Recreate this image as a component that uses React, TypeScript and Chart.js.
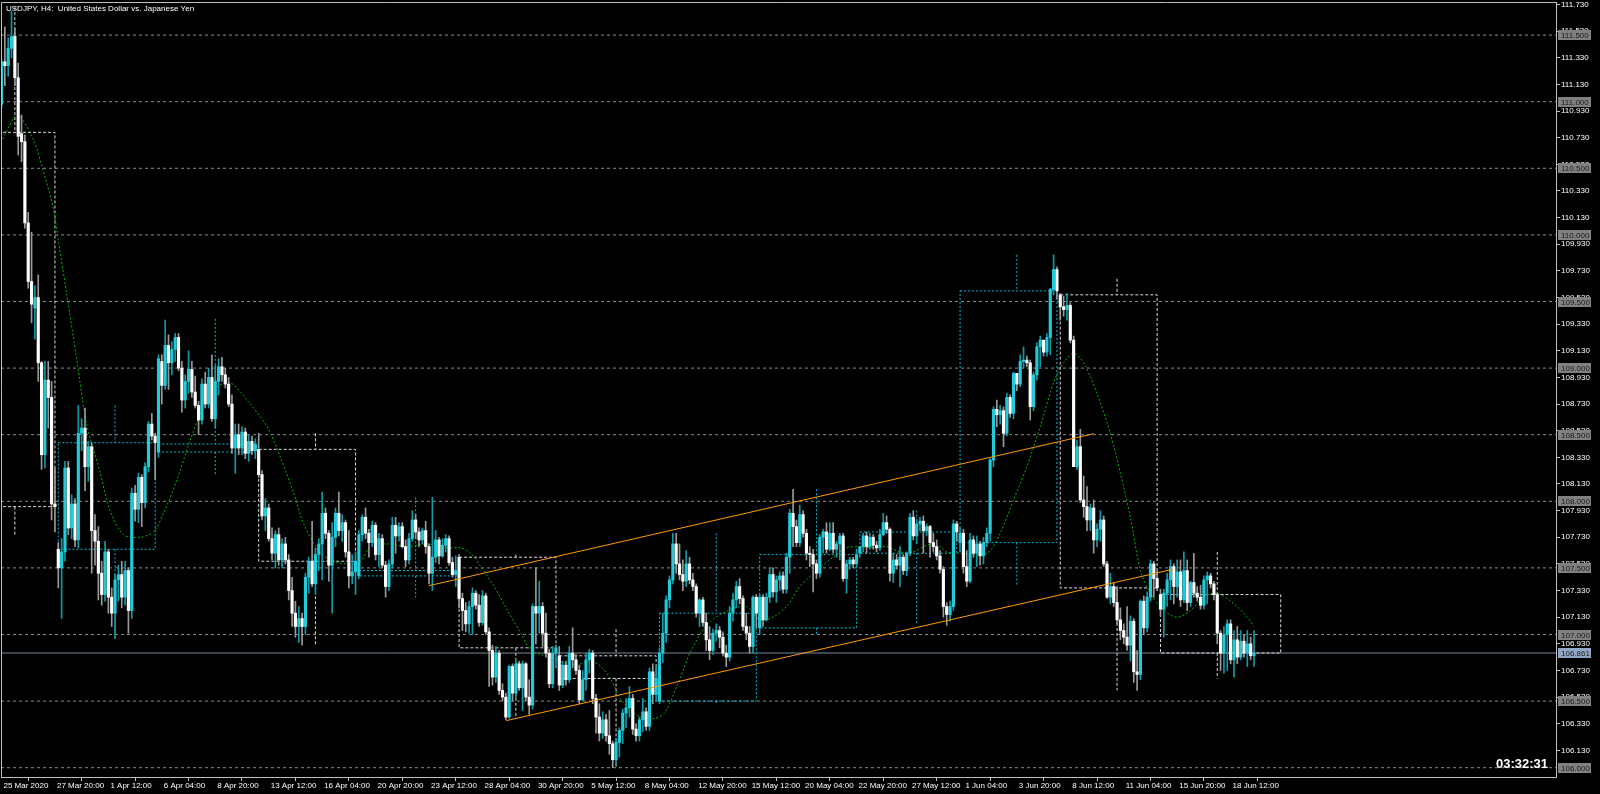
import { useEffect, useRef } from "react";
import { Chart, registerables } from "chart.js";

Chart.register(...registerables);

const FONT = "'Liberation Sans', Arial, sans-serif";
const TITLE = "USDJPY, H4:  United States Dollar vs. Japanese Yen";
const TIMER = "03:32:31";

// H4 candles, one array per trading week: [open, high, low, close]
const weekA = [
  [110.98,111.32,110.95,111.30],[111.30,111.56,111.12,111.27],[111.27,111.48,111.19,111.40],[111.40,111.68,111.33,111.49],
  [111.49,111.55,111.12,111.18],[111.18,111.29,110.60,110.74],[110.76,110.90,110.55,110.70],[110.70,110.75,110.05,110.09],
  [110.09,110.17,109.60,109.65],[109.65,110.02,109.34,109.48],[109.45,109.62,109.22,109.53],[109.53,109.70,108.90,109.04],
  [109.04,109.05,108.24,108.35],[108.35,109.05,108.25,108.91],[108.91,109.05,108.55,108.78],[108.78,108.90,107.86,107.98],
  [107.98,108.25,107.77,107.96],
];
const weekB = [
  [107.64,107.69,107.35,107.50],[107.50,107.72,107.12,107.62],[107.62,108.30,107.55,108.25],[108.25,108.30,107.75,107.80],
  [107.80,108.05,107.72,107.98],[107.98,108.02,107.66,107.71],[107.71,108.72,107.65,108.51],[108.51,108.62,108.38,108.55],
  [108.55,108.70,108.08,108.26],[108.26,108.45,108.15,108.41],[108.41,108.44,107.46,107.78],[107.78,107.90,107.52,107.70],
  [107.70,107.81,107.26,107.46],[107.46,107.55,107.22,107.30],[107.30,107.70,107.25,107.62],[107.62,107.64,107.16,107.28],
  [107.28,107.35,107.06,107.16],[107.16,107.45,106.97,107.41],[107.41,107.52,107.25,107.45],[107.45,107.55,107.20,107.28],
  [107.28,107.55,107.22,107.48],[107.48,107.50,107.01,107.18],[107.18,108.10,107.12,108.06],[108.06,108.12,107.85,107.94],
  [107.94,108.21,107.84,108.18],[108.18,108.20,107.81,107.99],[107.99,108.29,107.95,108.26],[108.26,108.60,108.22,108.58],
  [108.58,108.66,108.46,108.49],[108.49,108.51,108.16,108.44],
];
const weekC = [
  [108.37,109.10,108.33,109.07],[109.05,109.10,108.73,108.87],[108.87,109.36,108.84,109.17],[109.17,109.25,108.84,109.04],
  [109.04,109.20,108.95,109.14],[109.14,109.26,109.05,109.23],[109.23,109.26,108.98,109.00],[109.00,109.05,108.67,108.76],
  [108.76,108.95,108.70,108.90],[108.90,109.13,108.81,108.99],[108.99,109.05,108.78,108.82],[108.82,108.94,108.70,108.72],
  [108.72,108.75,108.50,108.61],[108.61,108.92,108.58,108.88],[108.88,108.97,108.70,108.73],[108.73,109.00,108.70,108.93],
  [108.93,109.10,108.60,108.62],[108.62,109.02,108.55,108.90],[108.90,109.07,108.80,109.01],[109.01,109.08,108.90,108.95],
  [108.95,109.00,108.85,108.88],[108.88,108.93,108.71,108.73],[108.73,108.80,108.36,108.40],[108.40,108.58,108.21,108.50],
  [108.50,108.58,108.35,108.40],[108.40,108.56,108.35,108.52],[108.52,108.55,108.32,108.36],[108.36,108.50,108.30,108.45],
  [108.45,108.49,108.35,108.38],[108.38,108.47,108.32,108.43],
];
const weekD = [
  [108.39,108.51,108.18,108.20],[108.20,108.23,107.86,107.89],[107.89,108.02,107.78,107.95],[107.95,107.98,107.70,107.72],
  [107.72,107.80,107.56,107.61],[107.61,107.78,107.50,107.75],[107.75,107.80,107.52,107.56],[107.56,107.72,107.50,107.68],
  [107.68,107.73,107.53,107.56],[107.56,107.60,107.26,107.33],[107.33,107.43,107.06,107.16],[107.16,107.25,106.98,107.06],
  [107.06,107.21,106.94,107.12],[107.12,107.16,106.92,107.06],[107.06,107.46,107.00,107.43],[107.43,107.58,107.31,107.55],
  [107.55,107.85,107.36,107.38],[107.38,107.65,107.30,107.60],[107.60,107.72,107.48,107.68],[107.68,108.07,107.41,107.91],
  [107.91,107.95,107.72,107.76],[107.76,107.78,107.40,107.52],[107.52,107.84,107.16,107.73],[107.73,107.95,107.66,107.91],
  [107.91,108.07,107.74,107.78],[107.78,107.90,107.70,107.84],[107.84,107.86,107.58,107.62],[107.62,107.78,107.35,107.44],
  [107.44,107.60,107.38,107.47],[107.47,107.62,107.30,107.55],
];
const weekE = [
  [107.44,107.78,107.42,107.75],[107.75,107.90,107.70,107.88],[107.88,107.95,107.72,107.76],[107.76,107.79,107.58,107.69],
  [107.69,107.85,107.66,107.82],[107.82,107.84,107.56,107.60],[107.60,107.76,107.51,107.72],[107.72,107.75,107.50,107.52],
  [107.52,107.55,107.28,107.36],[107.36,107.56,107.33,107.53],[107.53,107.88,107.50,107.82],[107.82,107.88,107.61,107.74],
  [107.74,107.84,107.70,107.81],[107.81,107.84,107.65,107.66],[107.66,107.71,107.51,107.56],[107.56,107.76,107.53,107.72],
  [107.72,107.93,107.70,107.86],[107.86,107.90,107.72,107.77],[107.77,107.80,107.66,107.71],[107.71,107.80,107.68,107.78],
  [107.78,107.85,107.61,107.66],[107.66,107.68,107.38,107.46],[107.46,108.03,107.33,107.58],[107.58,107.78,107.54,107.71],
  [107.71,107.73,107.53,107.59],[107.59,107.72,107.58,107.67],[107.67,107.75,107.62,107.72],[107.72,107.74,107.52,107.54],
  [107.54,107.58,107.43,107.45],[107.45,107.59,107.36,107.48],
];
const weekF = [
  [107.58,107.60,107.20,107.27],[107.27,107.31,107.03,107.18],[107.18,107.24,107.02,107.08],[107.08,107.25,107.01,107.21],
  [107.21,107.35,107.00,107.31],[107.31,107.33,107.19,107.22],[107.22,107.30,107.06,107.09],[107.09,107.33,107.07,107.29],
  [107.29,107.31,107.00,107.02],[107.02,107.05,106.61,106.88],[106.88,106.92,106.62,106.68],[106.68,106.91,106.64,106.86],
  [106.86,106.88,106.55,106.58],[106.58,106.63,106.50,106.53],[106.53,106.56,106.36,106.38],[106.38,106.77,106.37,106.76],
  [106.76,106.78,106.50,106.56],[106.56,106.80,106.52,106.78],[106.78,106.80,106.58,106.60],[106.60,106.80,106.43,106.78],
  [106.78,106.79,106.50,106.53],[106.53,106.66,106.40,106.47],[106.47,107.23,106.44,107.21],[107.21,107.50,106.93,107.16],
  [107.16,107.40,107.01,107.21],[107.21,107.24,106.91,107.01],[107.01,107.16,106.83,106.86],[106.86,106.89,106.60,106.63],
  [106.63,106.91,106.60,106.86],[106.86,106.92,106.75,106.90],
];
const weekG = [
  [106.84,106.91,106.58,106.62],[106.62,106.80,106.60,106.77],[106.77,106.80,106.62,106.66],[106.66,106.91,106.64,106.86],
  [106.86,107.05,106.75,106.81],[106.81,106.85,106.70,106.73],[106.73,106.77,106.48,106.51],[106.51,106.73,106.50,106.66],
  [106.66,106.86,106.58,106.81],[106.81,106.89,106.71,106.86],[106.86,106.88,106.48,106.52],[106.52,106.55,106.26,106.38],
  [106.38,106.48,106.20,106.26],[106.26,106.42,106.22,106.36],[106.36,106.40,106.20,106.24],[106.24,106.43,106.10,106.18],
  [106.18,106.20,106.00,106.06],[106.06,106.22,106.02,106.19],[106.19,106.30,106.08,106.28],[106.28,106.44,106.18,106.41],
  [106.41,106.52,106.30,106.45],[106.45,106.61,106.38,106.52],[106.52,106.55,106.25,106.29],[106.29,106.33,106.20,106.24],
  [106.24,106.38,106.20,106.36],[106.36,106.52,106.27,106.42],[106.42,106.45,106.28,106.31],[106.31,106.75,106.28,106.72],
  [106.72,106.78,106.48,106.55],[106.55,106.76,106.50,106.67],
];
const weekH = [
  [106.50,106.90,106.48,106.86],[106.86,107.16,106.79,107.01],[107.01,107.29,106.94,107.26],[107.26,107.44,107.20,107.41],
  [107.41,107.76,107.38,107.68],[107.68,107.76,107.46,107.53],[107.53,107.68,107.41,107.45],[107.45,107.56,107.33,107.40],
  [107.40,107.63,107.36,107.53],[107.53,107.58,107.38,107.41],[107.41,107.46,107.33,107.36],[107.36,107.38,107.13,107.16],
  [107.16,107.27,107.06,107.26],[107.26,107.28,107.06,107.09],[107.09,107.16,106.88,106.96],[106.96,107.06,106.81,106.88],
  [106.88,107.04,106.85,107.01],[107.01,107.08,106.95,107.03],[107.03,107.06,106.90,106.98],[106.98,107.02,106.84,106.86],
  [106.86,106.92,106.76,106.83],[106.83,107.21,106.80,107.16],[107.16,107.31,107.10,107.26],[107.26,107.40,107.20,107.36],
  [107.36,107.42,107.23,107.27],[107.27,107.29,107.03,107.06],[107.06,107.16,106.96,107.01],[107.01,107.06,106.86,106.91],
  [106.91,107.29,106.86,107.28],[107.28,107.30,107.05,107.16],
];
const weekI = [
  [107.05,107.30,107.00,107.28],[107.28,107.30,107.06,107.11],[107.11,107.31,107.10,107.28],[107.28,107.50,107.24,107.45],
  [107.45,107.50,107.28,107.32],[107.32,107.44,107.24,107.41],[107.41,107.47,107.33,107.44],[107.44,107.47,107.31,107.34],
  [107.34,107.61,107.31,107.58],[107.58,107.94,107.46,107.91],[107.91,108.09,107.66,107.81],[107.81,107.86,107.66,107.69],
  [107.69,107.97,107.66,107.90],[107.90,107.93,107.73,107.76],[107.76,107.79,107.56,107.61],[107.61,107.66,107.51,107.60],
  [107.60,107.64,107.32,107.53],[107.53,107.56,107.42,107.46],[107.46,107.75,107.43,107.73],[107.73,107.79,107.61,107.77],
  [107.77,107.84,107.61,107.64],[107.64,107.84,107.63,107.76],[107.76,107.84,107.61,107.64],[107.64,107.70,107.58,107.68],
  [107.68,107.76,107.56,107.74],[107.74,107.76,107.40,107.42],[107.42,107.56,107.31,107.53],[107.53,107.58,107.49,107.56],
  [107.56,107.58,107.50,107.53],[107.53,107.64,107.50,107.60],
];
const weekJ = [
  [107.61,107.66,107.58,107.66],[107.66,107.76,107.62,107.74],[107.74,107.77,107.61,107.66],[107.66,107.76,107.64,107.73],
  [107.73,107.75,107.64,107.67],[107.67,107.70,107.62,107.65],[107.65,107.79,107.63,107.75],[107.75,107.91,107.74,107.84],
  [107.84,107.89,107.76,107.79],[107.79,107.80,107.40,107.46],[107.46,107.61,107.39,107.56],[107.56,107.60,107.49,107.52],
  [107.52,107.66,107.36,107.58],[107.58,107.60,107.45,107.48],[107.48,107.62,107.44,107.61],[107.61,107.91,107.59,107.88],
  [107.88,107.93,107.71,107.74],[107.74,107.86,107.68,107.83],[107.83,107.88,107.78,107.85],[107.85,107.89,107.61,107.78],
  [107.78,107.83,107.74,107.81],[107.81,107.82,107.58,107.69],[107.69,107.76,107.62,107.66],[107.66,107.71,107.56,107.59],
  [107.59,107.63,107.46,107.49],[107.49,107.51,107.13,107.21],[107.21,107.24,107.07,107.15],[107.15,107.25,107.10,107.21],
  [107.21,107.86,107.18,107.83],[107.83,107.85,107.70,107.77],
];
const weekK = [
  [107.69,107.80,107.62,107.76],[107.76,107.79,107.46,107.51],[107.51,107.63,107.36,107.40],[107.40,107.76,107.39,107.71],
  [107.71,107.74,107.58,107.61],[107.61,107.74,107.51,107.68],[107.68,107.70,107.52,107.59],[107.59,107.73,107.53,107.69],
  [107.69,107.80,107.66,107.76],[107.76,108.32,107.70,108.31],[108.31,108.71,108.26,108.69],[108.69,108.76,108.56,108.65],
  [108.65,108.72,108.58,108.68],[108.68,108.71,108.41,108.51],[108.51,108.81,108.49,108.78],[108.78,108.80,108.63,108.66],
  [108.66,108.97,108.62,108.96],[108.96,108.96,108.83,108.88],[108.88,109.10,108.86,109.05],[109.05,109.16,109.00,109.06],
  [109.06,109.09,109.01,109.04],[109.04,109.06,108.61,108.71],[108.71,108.97,108.68,108.95],[108.95,109.19,108.91,109.16],
  [109.16,109.24,109.01,109.21],[109.21,109.21,109.09,109.12],[109.12,109.26,109.09,109.23],[109.23,109.60,109.10,109.59],
  [109.59,109.85,109.55,109.74],[109.74,109.76,109.52,109.58],
];
const weekL = [
  [109.55,109.56,109.36,109.46],[109.46,109.54,109.39,109.44],[109.44,109.56,109.36,109.47],[109.47,109.49,109.19,109.21],
  [109.21,109.24,108.26,108.26],[108.26,108.46,108.24,108.41],[108.41,108.54,107.99,108.01],[108.01,108.19,107.88,107.96],
  [107.96,108.11,107.78,107.86],[107.86,107.98,107.78,107.95],[107.95,108.01,107.61,107.71],[107.71,107.83,107.66,107.79],
  [107.79,107.93,107.70,107.86],[107.86,107.89,107.51,107.53],[107.53,107.55,107.27,107.28],[107.28,107.46,107.23,107.36],
  [107.36,107.39,107.21,107.24],[107.24,107.36,107.08,107.11],[107.11,107.20,106.96,107.03],[107.03,107.08,106.93,106.98],
  [106.98,107.21,106.88,106.92],[106.92,107.14,106.80,107.10],[107.10,107.12,106.64,106.72],[106.72,106.88,106.58,106.70],
  [106.70,107.26,106.66,107.25],[107.25,107.29,107.00,107.05],[107.05,107.32,107.02,107.28],[107.28,107.56,107.25,107.53],
  [107.53,107.55,107.28,107.42],[107.42,107.48,107.33,107.35],
];
const weekM = [
  [107.30,107.34,107.14,107.19],[107.19,107.34,106.98,107.31],[107.31,107.46,107.21,107.41],[107.41,107.56,107.26,107.51],
  [107.51,107.53,107.23,107.36],[107.36,107.56,107.28,107.47],[107.47,107.56,107.21,107.26],[107.26,107.62,107.24,107.48],
  [107.48,107.56,107.18,107.24],[107.24,107.40,107.21,107.39],[107.39,107.61,107.28,107.31],[107.31,107.36,107.25,107.28],
  [107.28,107.37,107.19,107.22],[107.22,107.44,107.19,107.41],[107.41,107.47,107.23,107.44],[107.44,107.46,107.35,107.38],
  [107.38,107.40,107.26,107.30],[107.30,107.31,106.93,107.01],[107.01,107.03,106.73,106.86],[106.86,107.06,106.71,107.00],
  [107.00,107.11,106.73,107.08],[107.08,107.11,106.78,106.81],[106.81,107.03,106.68,106.96],[106.96,107.06,106.78,106.83],
  [106.83,107.03,106.81,106.95],[106.95,107.00,106.83,106.86],[106.86,107.03,106.76,106.93],[106.93,106.98,106.81,106.84],
  [106.84,107.03,106.76,106.86],
];
const candles = [...weekA, ...weekB, ...weekC, ...weekD, ...weekE, ...weekF, ...weekG, ...weekH, ...weekI, ...weekJ, ...weekK, ...weekL, ...weekM];

// time axis (bar index of each label)
const dateTickIdx = [0,16,32,48,64,80,96,112,128,144,160,176,192,208,224,240,256,272,288,304,320,336,352,368];
const dateLabels = ["25 Mar 2020","27 Mar 20:00","1 Apr 12:00","6 Apr 04:00","8 Apr 20:00","13 Apr 12:00","16 Apr 04:00",
  "20 Apr 20:00","23 Apr 12:00","28 Apr 04:00","30 Apr 20:00","5 May 12:00","8 May 04:00","12 May 20:00","15 May 12:00",
  "20 May 04:00","22 May 20:00","27 May 12:00","1 Jun 04:00","3 Jun 20:00","8 Jun 12:00","11 Jun 04:00","15 Jun 20:00","18 Jun 12:00"];

// price axis
const priceTicks = [106.13,106.33,106.53,106.73,106.93,107.13,107.33,107.53,107.73,107.93,108.13,108.33,108.53,108.73,108.93,
  109.13,109.33,109.53,109.73,109.93,110.13,110.33,110.53,110.73,110.93,111.13,111.33,111.53,111.73];
const levelPrices = [106.0,106.5,107.0,107.5,108.0,108.5,109.0,109.5,110.0,110.5,111.0,111.5];
const currentPrice = 106.861;

// weekly range boxes (bar index of first / last bar, weekly OHLC)
const weekStart = [-13,17,47,77,107,137,167,197,227,257,287,317,347];
const weekEnd   = [16,46,76,106,136,166,196,226,256,286,316,346,383];
const weekOpen  = [110.77,107.64,108.37,108.39,107.44,107.58,106.84,106.50,107.05,107.61,107.69,109.55,107.30];
const weekHigh  = [111.71,108.72,109.37,108.51,108.03,107.60,107.04,107.76,108.09,107.93,109.85,109.67,107.62];
const weekLow   = [107.75,106.97,108.20,106.92,107.28,106.37,106.00,106.48,107.00,107.07,107.37,106.58,106.67];
const weekClose = [107.96,108.44,108.43,107.55,107.48,106.90,106.67,107.16,107.60,107.77,109.58,107.35,106.861];
const weekWickOffset = 17;

// moving average (bar index, value)
const maIdx = [0.4,4,5.5,9.5,12.5,15.5,17,19.5,22.5,25.5,29.5,32.5,36.5,41.5,45.5,48.5,52.5,56.5,60.5,64.5,68.5,73.5,79.5,
  83.5,87.5,90.5,95.5,99.5,103.5,107.5,110.5,115.5,121.5,127.5,133.5,137.5,140.5,143.5,147.5,151.5,155.5,158.5,161.5,165.5,
  169.5,173.5,176.5,179.5,182.5,185.5,188.5,191.5,195.5,198.5,202.5,206.5,211.5,217.5,223,227,231,235,239,241,245,249,253,
  257,261,265,269,273,277,280,283,287,295,299,303,307,311,315,318,321,324,328,332,335,338,341,344,348,352,356,360,364,369,373,375];
const maVal = [110.72,110.89,110.89,110.72,110.48,110.20,109.96,109.56,109.07,108.58,108.22,107.93,107.75,107.73,107.77,107.91,
  108.16,108.46,108.71,108.86,108.89,108.76,108.56,108.33,108.06,107.83,107.61,107.55,107.53,107.55,107.66,107.68,107.66,107.68,
  107.65,107.65,107.61,107.51,107.36,107.18,107.01,106.88,106.85,106.82,106.78,106.78,106.80,106.76,106.66,106.51,106.43,106.38,
  106.37,106.41,106.63,106.88,107.08,107.18,107.21,107.11,107.13,107.21,107.36,107.41,107.50,107.58,107.65,107.66,107.65,107.66,
  107.62,107.62,107.67,107.68,107.62,107.61,107.61,107.76,108.01,108.26,108.56,108.89,109.04,109.11,109.04,108.81,108.51,108.21,
  107.88,107.48,107.31,107.18,107.13,107.18,107.28,107.31,107.23,107.13,107.06];

// trend channel
const upperTrendIdx = [127.9, 327.1];
const upperTrendVal = [107.366, 108.508];
const lowerTrendIdx = [151.1, 350.8];
const lowerTrendVal = [106.353, 107.49];

const X_MIN = -0.15, X_MAX = 465.42, Y_MIN = 105.9302, Y_MAX = 111.7485;

const C = {
  bg: "#000000",
  axis: "#c0c0c0",
  text: "#ffffff",
  level: "#8c8c8c",
  levelBox: "#808080",
  levelText: "#1c1c1c",
  cur: "#778899",
  curBox: "#8fa6c4",
  bullBody: "#22cbd9",
  bullWick: "#119aa6",
  bearBody: "#ffffff",
  bearWick: "#9a9a9a",
  whiteBox: "#d9d9d9",
  cyanBox: "#00bcd4",
  ma: "#00b400",
  trend: "#ff9a00",
};

function boxPoints(bullish: boolean) {
  const pts: any[] = [];
  weekStart.forEach((s, k) => {
    const o = weekOpen[k], c = weekClose[k];
    if ((c >= o) !== bullish) return;
    const e = weekEnd[k], top = Math.max(o, c), bot = Math.min(o, c), mid = s + weekWickOffset;
    pts.push({ x: s, y: top }, { x: e, y: top }, { x: e, y: bot }, { x: s, y: bot }, { x: s, y: top }, { x: s, y: null });
    pts.push({ x: mid, y: weekHigh[k] }, { x: mid, y: top }, { x: mid, y: null });
    pts.push({ x: mid, y: bot }, { x: mid, y: weekLow[k] }, { x: mid, y: null });
  });
  return pts;
}

const overlay = {
  id: "mtOverlay",
  beforeDraw(chart: any) {
    const { ctx } = chart;
    ctx.save();
    ctx.fillStyle = C.bg;
    ctx.fillRect(0, 0, chart.width, chart.height);
    ctx.restore();
  },
  afterDraw(chart: any) {
    const { ctx, chartArea: a } = chart;
    const y = chart.scales.y;
    ctx.save();
    ctx.strokeStyle = C.axis;
    ctx.lineWidth = 1;
    ctx.beginPath();
    ctx.moveTo(a.left + 0.5, a.bottom);
    ctx.lineTo(a.left + 0.5, a.top + 0.5);
    ctx.lineTo(a.right, a.top + 0.5);
    ctx.stroke();

    ctx.font = `8px ${FONT}`;
    ctx.textBaseline = "middle";
    ctx.textAlign = "left";
    levelPrices.forEach((p) => {
      const yy = Math.round(y.getPixelForValue(p));
      ctx.fillStyle = C.levelBox;
      ctx.fillRect(a.right + 2, yy - 5, 33, 10);
      ctx.fillStyle = C.levelText;
      ctx.fillText(p.toFixed(3), a.right + 5, yy + 0.5);
    });
    const cy = Math.round(y.getPixelForValue(currentPrice));
    ctx.fillStyle = C.curBox;
    ctx.fillRect(a.right + 2, cy - 5, 33, 10);
    ctx.fillStyle = C.levelText;
    ctx.fillText(currentPrice.toFixed(3), a.right + 5, cy + 0.5);

    ctx.fillStyle = C.text;
    ctx.textBaseline = "alphabetic";
    ctx.fillText(TITLE, 6, 11);

    ctx.font = `bold 13px ${FONT}`;
    ctx.textAlign = "right";
    ctx.fillText(TIMER, 1548, 768);
    ctx.restore();
  },
};

export default function App() {
  const ref = useRef<HTMLCanvasElement | null>(null);

  useEffect(() => {
    const canvas = ref.current;
    if (!canvas) return;

    const levelPts: any[] = [];
    levelPrices.forEach((p) => levelPts.push({ x: X_MIN, y: p }, { x: X_MAX, y: p }, { x: X_MAX, y: null }));

    const isBull = candles.map((c) => c[3] >= c[0]);
    const datasets: any[] = [
      {
        type: "line", label: "levels", data: levelPts, borderColor: C.level, borderWidth: 1,
        borderDash: [3, 3], pointRadius: 0, spanGaps: false, order: 10,
      },
      {
        type: "line", label: "price", data: [{ x: X_MIN, y: currentPrice }, { x: X_MAX, y: currentPrice }],
        borderColor: C.cur, borderWidth: 1, pointRadius: 0, order: 9,
      },
      {
        type: "line", label: "bear weeks", data: boxPoints(false), borderColor: C.whiteBox, borderWidth: 1,
        borderDash: [3, 2], pointRadius: 0, spanGaps: false, order: 8,
      },
      {
        type: "line", label: "bull weeks", data: boxPoints(true), borderColor: C.cyanBox, borderWidth: 1,
        borderDash: [2, 2], pointRadius: 0, spanGaps: false, order: 8,
      },
      {
        type: "line", label: "MA", data: maIdx.map((x, k) => ({ x, y: maVal[k] })), borderColor: C.ma,
        borderWidth: 1, borderDash: [2, 2], pointRadius: 0, tension: 0.3, order: 7,
      },
      {
        type: "bar", label: "wicks", data: candles.map((c, i) => ({ x: i, y: [c[2], c[1]] })),
        backgroundColor: isBull.map((b) => (b ? C.bullWick : C.bearWick)), barThickness: 1,
        grouped: false, borderWidth: 0, order: 6,
      },
      {
        type: "bar", label: "bodies", data: candles.map((c, i) => ({ x: i, y: [c[0], c[3]] })),
        backgroundColor: isBull.map((b) => (b ? C.bullBody : C.bearBody)), barThickness: 2.5,
        grouped: false, borderWidth: 0, minBarLength: 1, order: 5,
      },
      {
        type: "line", label: "upper", data: upperTrendIdx.map((x, k) => ({ x, y: upperTrendVal[k] })),
        borderColor: C.trend, borderWidth: 1, pointRadius: 0, order: 1,
      },
      {
        type: "line", label: "lower", data: lowerTrendIdx.map((x, k) => ({ x, y: lowerTrendVal[k] })),
        borderColor: C.trend, borderWidth: 1, pointRadius: 0, order: 1,
      },
    ];

    const chart = new Chart(canvas, {
      type: "bar",
      data: { datasets },
      options: {
        responsive: false,
        animation: false,
        devicePixelRatio: 1,
        events: [],
        layout: { padding: { left: 1, top: 2, right: 0, bottom: 0 } },
        plugins: { legend: { display: false }, tooltip: { enabled: false }, title: { display: false } },
        scales: {
          x: {
            type: "linear", position: "bottom", min: X_MIN, max: X_MAX, offset: false,
            grid: { display: true, drawOnChartArea: false, drawTicks: true, tickLength: 4, color: C.axis },
            border: { display: true, color: C.axis, width: 1 },
            ticks: {
              autoSkip: false, maxRotation: 0, minRotation: 0, align: "start", labelOffset: 2, padding: 0,
              color: C.text, font: { family: FONT, size: 8 },
              callback: (_v: any, idx: number) => dateLabels[idx] ?? "",
            },
            afterBuildTicks: (s: any) => { s.ticks = dateTickIdx.map((v) => ({ value: v })); },
            afterFit: (s: any) => { s.height = 17; s.paddingLeft = 0; s.paddingRight = 0; },
          },
          y: {
            type: "linear", position: "right", min: Y_MIN, max: Y_MAX,
            grid: { display: true, drawOnChartArea: false, drawTicks: true, tickLength: 4, color: C.axis },
            border: { display: true, color: C.axis, width: 1 },
            ticks: {
              autoSkip: false, padding: 1, color: C.text, font: { family: FONT, size: 8 },
              callback: (v: any) => Number(v).toFixed(3),
            },
            afterBuildTicks: (s: any) => { s.ticks = priceTicks.map((v) => ({ value: v })); },
            afterFit: (s: any) => { s.width = 44; s.paddingTop = 0; s.paddingBottom = 0; },
          },
        },
      } as any,
      plugins: [overlay],
    } as any);

    return () => chart.destroy();
  }, []);

  return (
    <div style={{ position: "fixed", left: 0, top: 0, width: 1600, height: 794, background: "#000" }}>
      <canvas ref={ref} width={1600} height={794} style={{ display: "block", width: 1600, height: 794 }} />
    </div>
  );
}
